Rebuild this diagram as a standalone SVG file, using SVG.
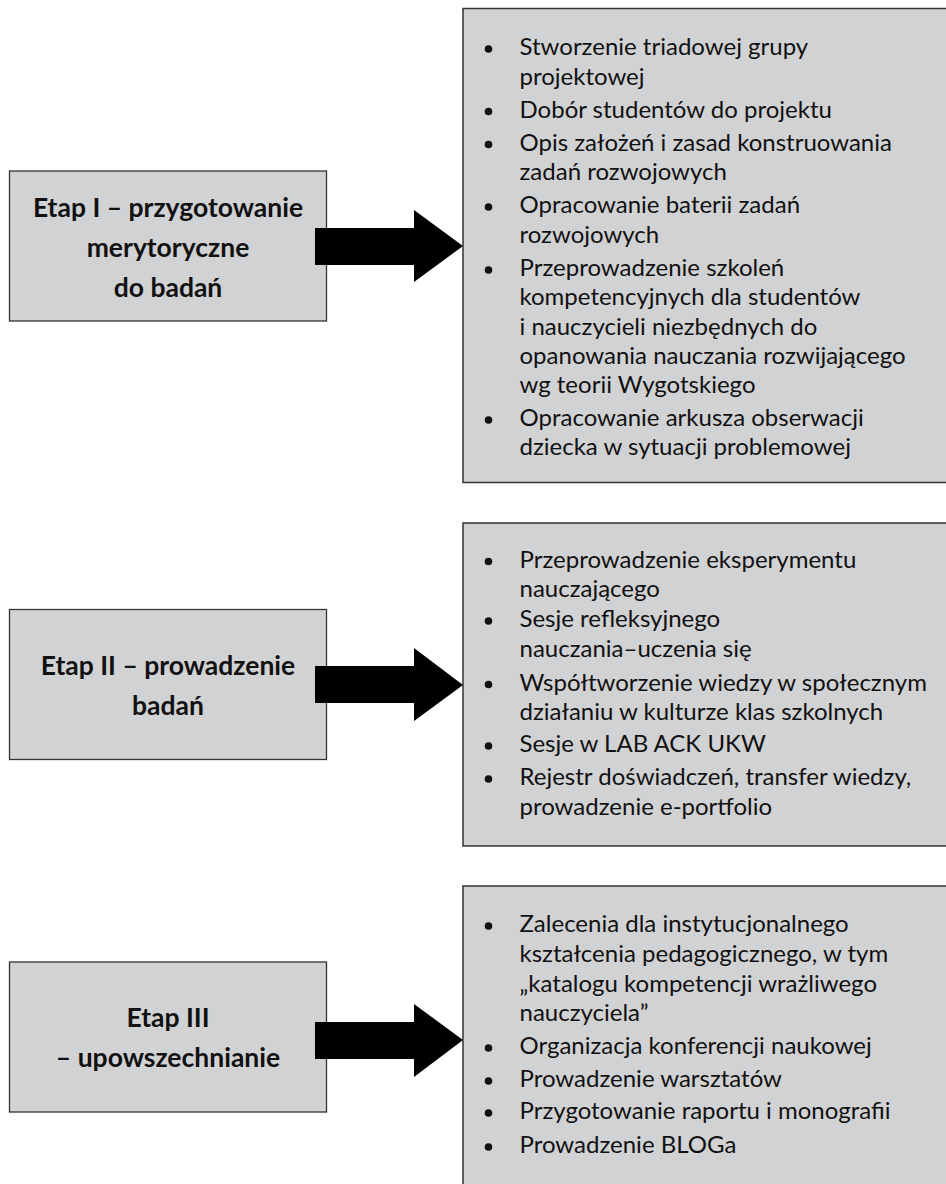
<svg xmlns="http://www.w3.org/2000/svg" width="946" height="1184" viewBox="0 0 946 1184">
<style>
.bg{fill:#ffffff}
.stage{fill:#d1d2d4;stroke:#333333;stroke-width:1.3}
.list{fill:#d1d2d4;stroke:#333333;stroke-width:1.5}
.lbl{font-family:Lato,"Liberation Sans",sans-serif;font-weight:bold;font-size:26.5px;fill:#111111;text-anchor:middle}
.itm{font-family:Lato,"Liberation Sans",sans-serif;font-size:24px;fill:#111111}
.arrow{fill:#000000}
.dot{fill:#111111}
</style>
<rect class="bg" x="0" y="0" width="946" height="1184"/>

<g id="stage1">
<rect class="stage" x="9.5" y="171" width="317" height="150"/>
<text class="lbl" x="168" y="217">Etap I – przygotowanie</text>
<text class="lbl" x="168" y="257">merytoryczne</text>
<text class="lbl" x="168" y="297">do badań</text>
</g>

<g id="stage2">
<rect class="stage" x="9.5" y="609.5" width="317" height="150"/>
<text class="lbl" x="168" y="675">Etap II – prowadzenie</text>
<text class="lbl" x="168" y="715">badań</text>
</g>

<g id="stage3">
<rect class="stage" x="9.5" y="962" width="317" height="150"/>
<text class="lbl" x="168" y="1027">Etap III</text>
<text class="lbl" x="168" y="1067">– upowszechnianie</text>
</g>

<g id="list1">
<rect class="list" x="463" y="8.5" width="500" height="474"/>
<circle class="dot" cx="488.5" cy="49" r="3.8"/>
<text class="itm" x="519.5" y="55">Stworzenie triadowej grupy</text>
<text class="itm" x="519.5" y="84.5">projektowej</text>
<circle class="dot" cx="488.5" cy="111.5" r="3.8"/>
<text class="itm" x="519.5" y="117.5">Dobór studentów do projektu</text>
<circle class="dot" cx="488.5" cy="144.5" r="3.8"/>
<text class="itm" x="519.5" y="150.5">Opis założeń i zasad konstruowania</text>
<text class="itm" x="519.5" y="180">zadań rozwojowych</text>
<circle class="dot" cx="488.5" cy="207" r="3.8"/>
<text class="itm" x="519.5" y="213">Opracowanie baterii zadań</text>
<text class="itm" x="519.5" y="242.5">rozwojowych</text>
<circle class="dot" cx="488.5" cy="270" r="3.8"/>
<text class="itm" x="519.5" y="276">Przeprowadzenie szkoleń</text>
<text class="itm" x="519.5" y="305">kompetencyjnych dla studentów</text>
<text class="itm" x="519.5" y="334.5">i nauczycieli niezbędnych do</text>
<text class="itm" x="519.5" y="363.5">opanowania nauczania rozwijającego</text>
<text class="itm" x="519.5" y="392.5">wg teorii Wygotskiego</text>
<circle class="dot" cx="488.5" cy="420" r="3.8"/>
<text class="itm" x="519.5" y="426">Opracowanie arkusza obserwacji</text>
<text class="itm" x="519.5" y="455">dziecka w sytuacji problemowej</text>
</g>

<g id="list2">
<rect class="list" x="463" y="523" width="500" height="323"/>
<circle class="dot" cx="488.5" cy="561.5" r="3.8"/>
<text class="itm" x="519.5" y="567.5">Przeprowadzenie eksperymentu</text>
<text class="itm" x="519.5" y="596.5">nauczającego</text>
<circle class="dot" cx="488.5" cy="621" r="3.8"/>
<text class="itm" x="519.5" y="627">Sesje refleksyjnego</text>
<text class="itm" x="519.5" y="657">nauczania–uczenia się</text>
<circle class="dot" cx="488.5" cy="684.5" r="3.8"/>
<text class="itm" x="519.5" y="690.5">Współtworzenie wiedzy w społecznym</text>
<text class="itm" x="519.5" y="720">działaniu w kulturze klas szkolnych</text>
<circle class="dot" cx="488.5" cy="746" r="3.8"/>
<text class="itm" x="519.5" y="752">Sesje w LAB ACK UKW</text>
<circle class="dot" cx="488.5" cy="779" r="3.8"/>
<text class="itm" x="519.5" y="785">Rejestr doświadczeń, transfer wiedzy,</text>
<text class="itm" x="519.5" y="814.5">prowadzenie e-portfolio</text>
</g>

<g id="list3">
<rect class="list" x="463" y="886" width="500" height="310"/>
<circle class="dot" cx="488.5" cy="926" r="3.8"/>
<text class="itm" x="519.5" y="932">Zalecenia dla instytucjonalnego</text>
<text class="itm" x="519.5" y="962">kształcenia pedagogicznego, w tym</text>
<text class="itm" x="519.5" y="992">„katalogu kompetencji wrażliwego</text>
<text class="itm" x="519.5" y="1021">nauczyciela”</text>
<circle class="dot" cx="488.5" cy="1048" r="3.8"/>
<text class="itm" x="519.5" y="1054">Organizacja konferencji naukowej</text>
<circle class="dot" cx="488.5" cy="1081" r="3.8"/>
<text class="itm" x="519.5" y="1087">Prowadzenie warsztatów</text>
<circle class="dot" cx="488.5" cy="1113" r="3.8"/>
<text class="itm" x="519.5" y="1119">Przygotowanie raportu i monografii</text>
<circle class="dot" cx="488.5" cy="1147" r="3.8"/>
<text class="itm" x="519.5" y="1153">Prowadzenie BLOGa</text>
</g>

<g id="connectors">
<polygon class="arrow" points="315,228 414,228 414,210 463,246 414,282 414,265 315,265"/>
<polygon class="arrow" points="315,666 414,666 414,648 463,685 414,721 414,703 315,703"/>
<polygon class="arrow" points="315,1022 414,1022 414,1004 463,1040 414,1077 414,1059 315,1059"/>
</g>
</svg>
